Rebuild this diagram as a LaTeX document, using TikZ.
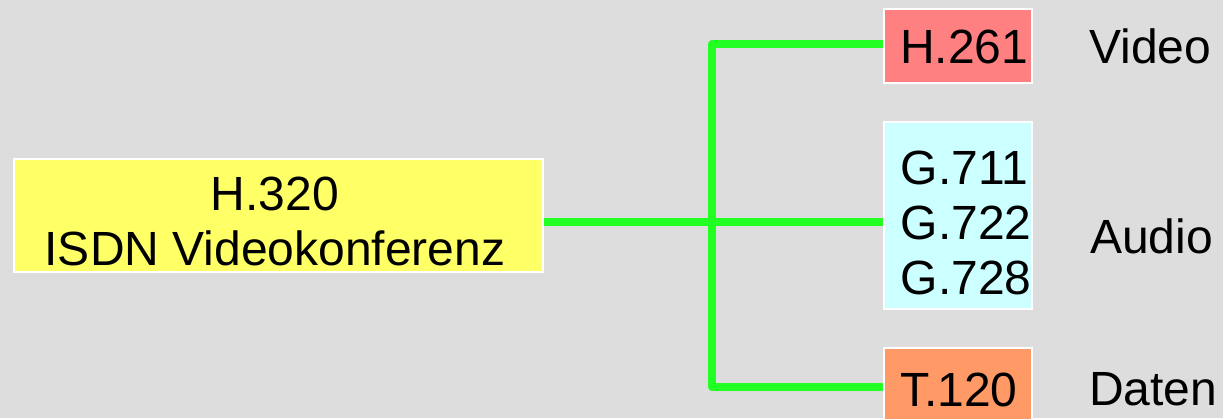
\documentclass[tikz,border=0pt]{standalone}
\usepackage{fontspec}
\setmainfont{Liberation Sans}
\definecolor{bg}{HTML}{DDDDDD}
\definecolor{yelfill}{HTML}{FFFF66}
\definecolor{redfill}{HTML}{FF8080}
\definecolor{cyanfill}{HTML}{CCFFFF}
\definecolor{orafill}{HTML}{FF9966}
\definecolor{linegreen}{HTML}{22FF22}
\begin{document}
\begin{tikzpicture}[x=1pt,y=-1pt,
  box/.style={draw=white,line width=2pt,inner sep=0pt,minimum width=#1},
  lbl/.style={inner sep=0pt,font=\fontsize{48}{55}\selectfont},
  conn/.style={draw=linegreen,line width=8pt,line join=round}]
\fill[bg] (0,0) rectangle (1223,418);
\useasboundingbox (0,0) rectangle (1223,418);
% boxes
\node[box=529pt,fill=yelfill,minimum height=112.5pt] (yel) at (278,215.25) {};
\node[box=148.5pt,fill=redfill,minimum height=74.5pt] (h261) at (957.75,45.75) {};
\node[box=148.5pt,fill=cyanfill,minimum height=187.5pt] (cyan) at (957.75,215.25) {};
\node[box=148.5pt,fill=orafill,minimum height=81pt] (t120) at (957.75,388) {};
% connectors
\coordinate (mid) at (0,222);
\coordinate (jx) at (712,0);
\coordinate (ytop) at (0,44);
\coordinate (ybot) at (0,387);
\draw[conn] (yel.east |- mid) -- (cyan.west |- mid);
\draw[conn] (h261.west |- ytop) -| (jx |- ybot) -- (t120.west |- ybot);
% texts
\node[lbl,anchor=base] (t1) at (275,210) {H.320};
\node[lbl,anchor=base] (t2) at (275,265) {ISDN Videokonferenz};
\node[lbl,anchor=base west] (th) at (900,63) {H.261};
\node[lbl,anchor=base west] (g1) at (900.5,184) {G.711};
\node[lbl,anchor=base west] (g2) at (900.5,239) {G.722};
\node[lbl,anchor=base west] (g3) at (900.5,294) {G.728};
\node[lbl,anchor=base west] (tt) at (900,406) {T.120};
\node[lbl,anchor=base west] (video) at (1089,63) {Video};
\node[lbl,anchor=base west] (audio) at (1090,253) {Audio};
\node[lbl,anchor=base west] (daten) at (1089,405.5) {Daten};
\end{tikzpicture}
\end{document}
